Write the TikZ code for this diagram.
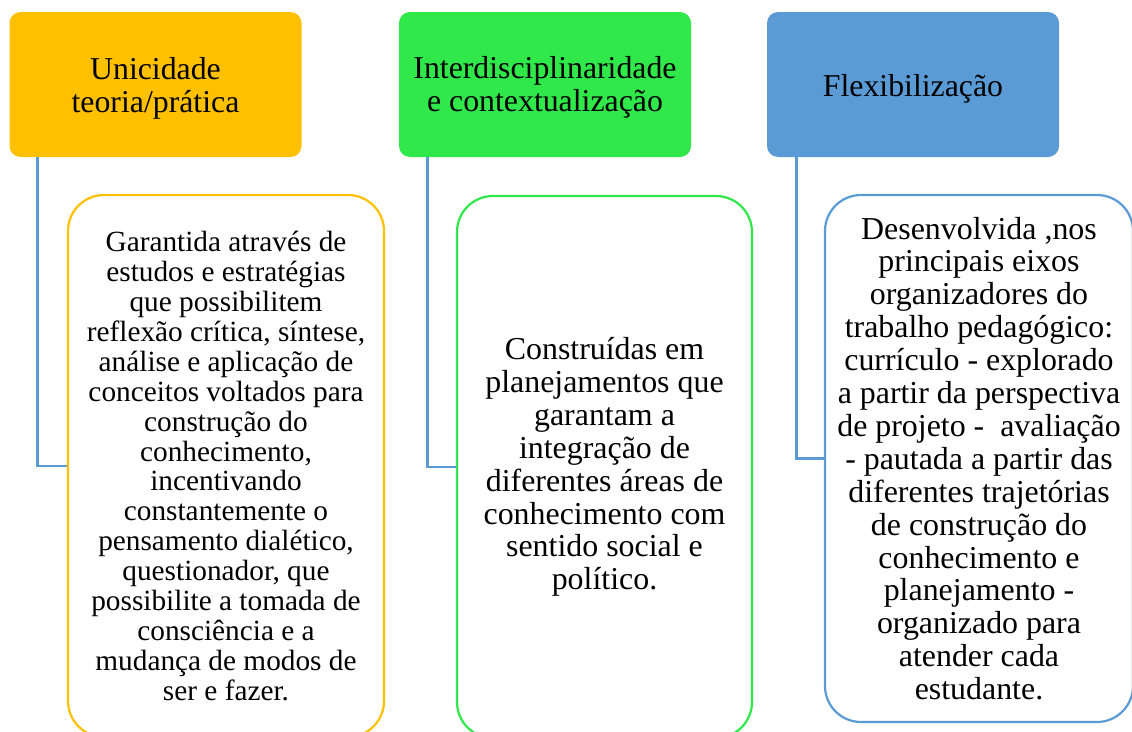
\documentclass[tikz,border=0pt]{standalone}
\usepackage{fontspec}
\setmainfont{Liberation Serif}
\definecolor{hOrange}{RGB}{255,192,0}
\definecolor{hGreen}{RGB}{48,232,74}
\definecolor{hBlue}{RGB}{91,155,213}
\tikzset{
  headbox/.style={rectangle, rounded corners=11pt, inner sep=0pt, minimum width=292pt, minimum height=145pt},
  headtext/.style={inner sep=0pt, align=center, font=\fontsize{31.8}{32.5}\selectfont},
  childbox/.style={rectangle, rounded corners=36pt, draw, line width=2.2pt, fill=white, inner sep=0pt, align=center},
  link/.style={draw=hBlue, line width=2.7pt}
}
\begin{document}
\begin{tikzpicture}[x=1pt,y=-1pt]
\useasboundingbox (0,0) rectangle (1132,731);
\clip (0,0) rectangle (1132,731);
\node[headbox, fill=hOrange] (h1) at (155.5,84.5) {};
\node[headbox, fill=hGreen] (h2) at (545,84.5) {};
\node[headbox, fill=hBlue] (h3) at (913,84.5) {};
\node[headtext] (t1) at ([yshift=-4pt]h1.center) {Unicidade\\teoria/prática};
\node[headtext] (t2) at ([yshift=-3pt]h2.center) {Interdisciplinaridade\\e contextualização};
\node[headtext] (t3) at ([yshift=-4pt]h3.center) {Flexibilização};

\node[childbox, draw=hOrange, minimum width=316pt, minimum height=542pt, font=\fontsize{29.3}{29.9}\selectfont] (c1) at (226,466) {Garantida através de\\estudos e estratégias\\que possibilitem\\reflexão crítica, síntese,\\análise e aplicação de\\conceitos voltados para\\construção do\\conhecimento,\\incentivando\\constantemente o\\pensamento dialético,\\questionador, que\\possibilite a tomada de\\consciência e a\\mudança de modos de\\ser e fazer.};
\node[childbox, draw=hGreen, minimum width=295pt, minimum height=542pt, font=\fontsize{31.9}{32.9}\selectfont] (c2) at (604.5,467) {Construídas em\\planejamentos que\\garantam a\\integração de\\diferentes áreas de\\conhecimento com\\sentido social e\\político.};
\node[childbox, draw=hBlue, minimum width=308pt, minimum height=527pt, font=\fontsize{31.9}{32.9}\selectfont] (c3) at (979,458.5) {Desenvolvida ,nos\\principais eixos\\organizadores do\\trabalho pedagógico:\\currículo - explorado\\a partir da perspectiva\\de projeto -\ \ avaliação\\- pautada a partir das\\diferentes trajetórias\\de construção do\\conhecimento e\\planejamento -\\organizado para\\atender cada\\estudante.};

\draw[link] ([xshift=28pt]h1.south west) |- (c1.west);
\draw[link] ([xshift=29pt]h2.south west) |- (c2.west);
\draw[link] ([xshift=30pt]h3.south west) |- (c3.west);
\end{tikzpicture}
\end{document}
